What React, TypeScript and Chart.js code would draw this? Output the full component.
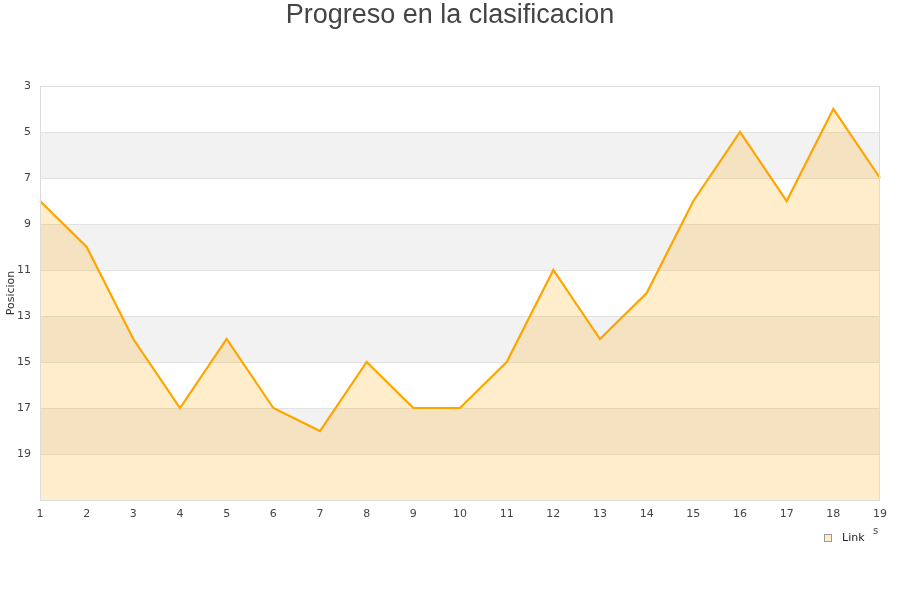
import React, { useEffect, useRef } from "react";
import { Chart, registerables } from "chart.js";

Chart.register(...registerables);

const categories = ["1","2","3","4","5","6","7","8","9","10","11","12","13","14","15","16","17","18","19"];
const positions = [8, 10, 14, 17, 14, 17, 18, 15, 17, 17, 15, 11, 14, 12, 8, 5, 8, 4, 7];
const seriesLabel = "Link";
const chartTitle = "Progreso en la clasificacion";
const yTitle = "Posicion";
const yMin = 3;
const yMax = 21;
const bandStarts = [5, 9, 13, 17];

const decorPlugin = {
  id: "decor",
  beforeDatasetsDraw(chart: any) {
    const { ctx, chartArea } = chart;
    const y = chart.scales.y;
    ctx.save();
    ctx.fillStyle = "#f2f2f2";
    for (const b of bandStarts) {
      const y1 = y.getPixelForValue(b);
      const y2 = y.getPixelForValue(b + 2);
      ctx.fillRect(chartArea.left, y1, chartArea.right - chartArea.left, y2 - y1);
    }
    ctx.strokeStyle = "#e2e2e2";
    ctx.lineWidth = 1;
    for (let v = yMin; v <= yMax; v += 2) {
      const py = Math.round(y.getPixelForValue(v)) + 0.5;
      ctx.beginPath();
      ctx.moveTo(chartArea.left, py);
      ctx.lineTo(chartArea.right, py);
      ctx.stroke();
    }
    ctx.restore();
  },
  afterDatasetsDraw(chart: any) {
    const { ctx, chartArea } = chart;
    ctx.save();
    ctx.strokeStyle = "#dcdcdc";
    ctx.lineWidth = 1;
    ctx.strokeRect(Math.round(chartArea.left) + 0.5, Math.round(chartArea.top) + 0.5,
      Math.round(chartArea.right - chartArea.left) - 1, Math.round(chartArea.bottom - chartArea.top));
    ctx.restore();
  },
  afterDraw(chart: any) {
    const { ctx, chartArea } = chart;
    ctx.save();
    ctx.fillStyle = "#444444";
    ctx.font = "27px 'Liberation Sans', Arial, sans-serif";
    ctx.textAlign = "center";
    ctx.textBaseline = "middle";
    ctx.fillText(chartTitle, 450, 16);
    ctx.font = "11px 'DejaVu Sans', sans-serif";
    ctx.fillStyle = "#333333";
    ctx.translate(11, (chartArea.top + chartArea.bottom) / 2);
    ctx.rotate(-Math.PI / 2);
    ctx.fillText(yTitle, 0, 0);
    ctx.restore();
    ctx.save();
    ctx.fillStyle = "rgba(255,165,0,0.2)";
    ctx.fillRect(824.5, 534.5, 7, 7);
    ctx.strokeStyle = "#999999";
    ctx.lineWidth = 1;
    ctx.strokeRect(824.5, 534.5, 7, 7);
    ctx.fillStyle = "#222222";
    ctx.font = "11px 'DejaVu Sans', sans-serif";
    ctx.textAlign = "left";
    ctx.textBaseline = "middle";
    ctx.fillText(seriesLabel, 842, 538);
    ctx.fillStyle = "#444444";
    ctx.font = "10px 'DejaVu Sans', sans-serif";
    ctx.fillText("s", 873, 531);
    ctx.restore();
  },
};

export default function App() {
  const ref = useRef<HTMLCanvasElement | null>(null);
  useEffect(() => {
    if (!ref.current) return;
    const chart = new Chart(ref.current, {
      type: "line",
      data: {
        labels: categories,
        datasets: [
          {
            label: seriesLabel,
            data: positions,
            borderColor: "#ffa500",
            backgroundColor: "rgba(255,165,0,0.2)",
            borderWidth: 2.2,
            pointRadius: 0,
            tension: 0,
            fill: { value: yMax },
          },
        ],
      },
      options: {
        animation: false,
        responsive: false,
        layout: { padding: { top: 86, right: 20, left: 0, bottom: 0 } },
        plugins: {
          legend: { display: false },
          title: { display: false },
          tooltip: { enabled: false },
        },
        scales: {
          x: {
            offset: false,
            grid: { display: false, drawTicks: false },
            border: { display: false },
            ticks: {
              color: "#444444",
              font: { family: "'DejaVu Sans', sans-serif", size: 11 },
              padding: 8,
              maxRotation: 0,
              autoSkip: false,
            },
            afterFit(scale: any) {
              scale.height = 100;
            },
          },
          y: {
            reverse: true,
            min: yMin,
            max: yMax,
            grid: { display: false, drawTicks: false },
            border: { display: false },
            ticks: {
              stepSize: 2,
              color: "#444444",
              font: { family: "'DejaVu Sans', sans-serif", size: 11 },
              padding: 9,
              callback: (v: any) => (v === yMax ? "" : String(v)),
            },
            afterFit(scale: any) {
              scale.width = 40;
            },
          },
        },
      },
      plugins: [decorPlugin],
    });
    return () => chart.destroy();
  }, []);
  return (
    <div style={{ position: "fixed", left: 0, top: 0, width: 900, height: 600, background: "#ffffff" }}>
      <canvas ref={ref} width={900} height={600} style={{ width: 900, height: 600, display: "block" }} />
    </div>
  );
}
